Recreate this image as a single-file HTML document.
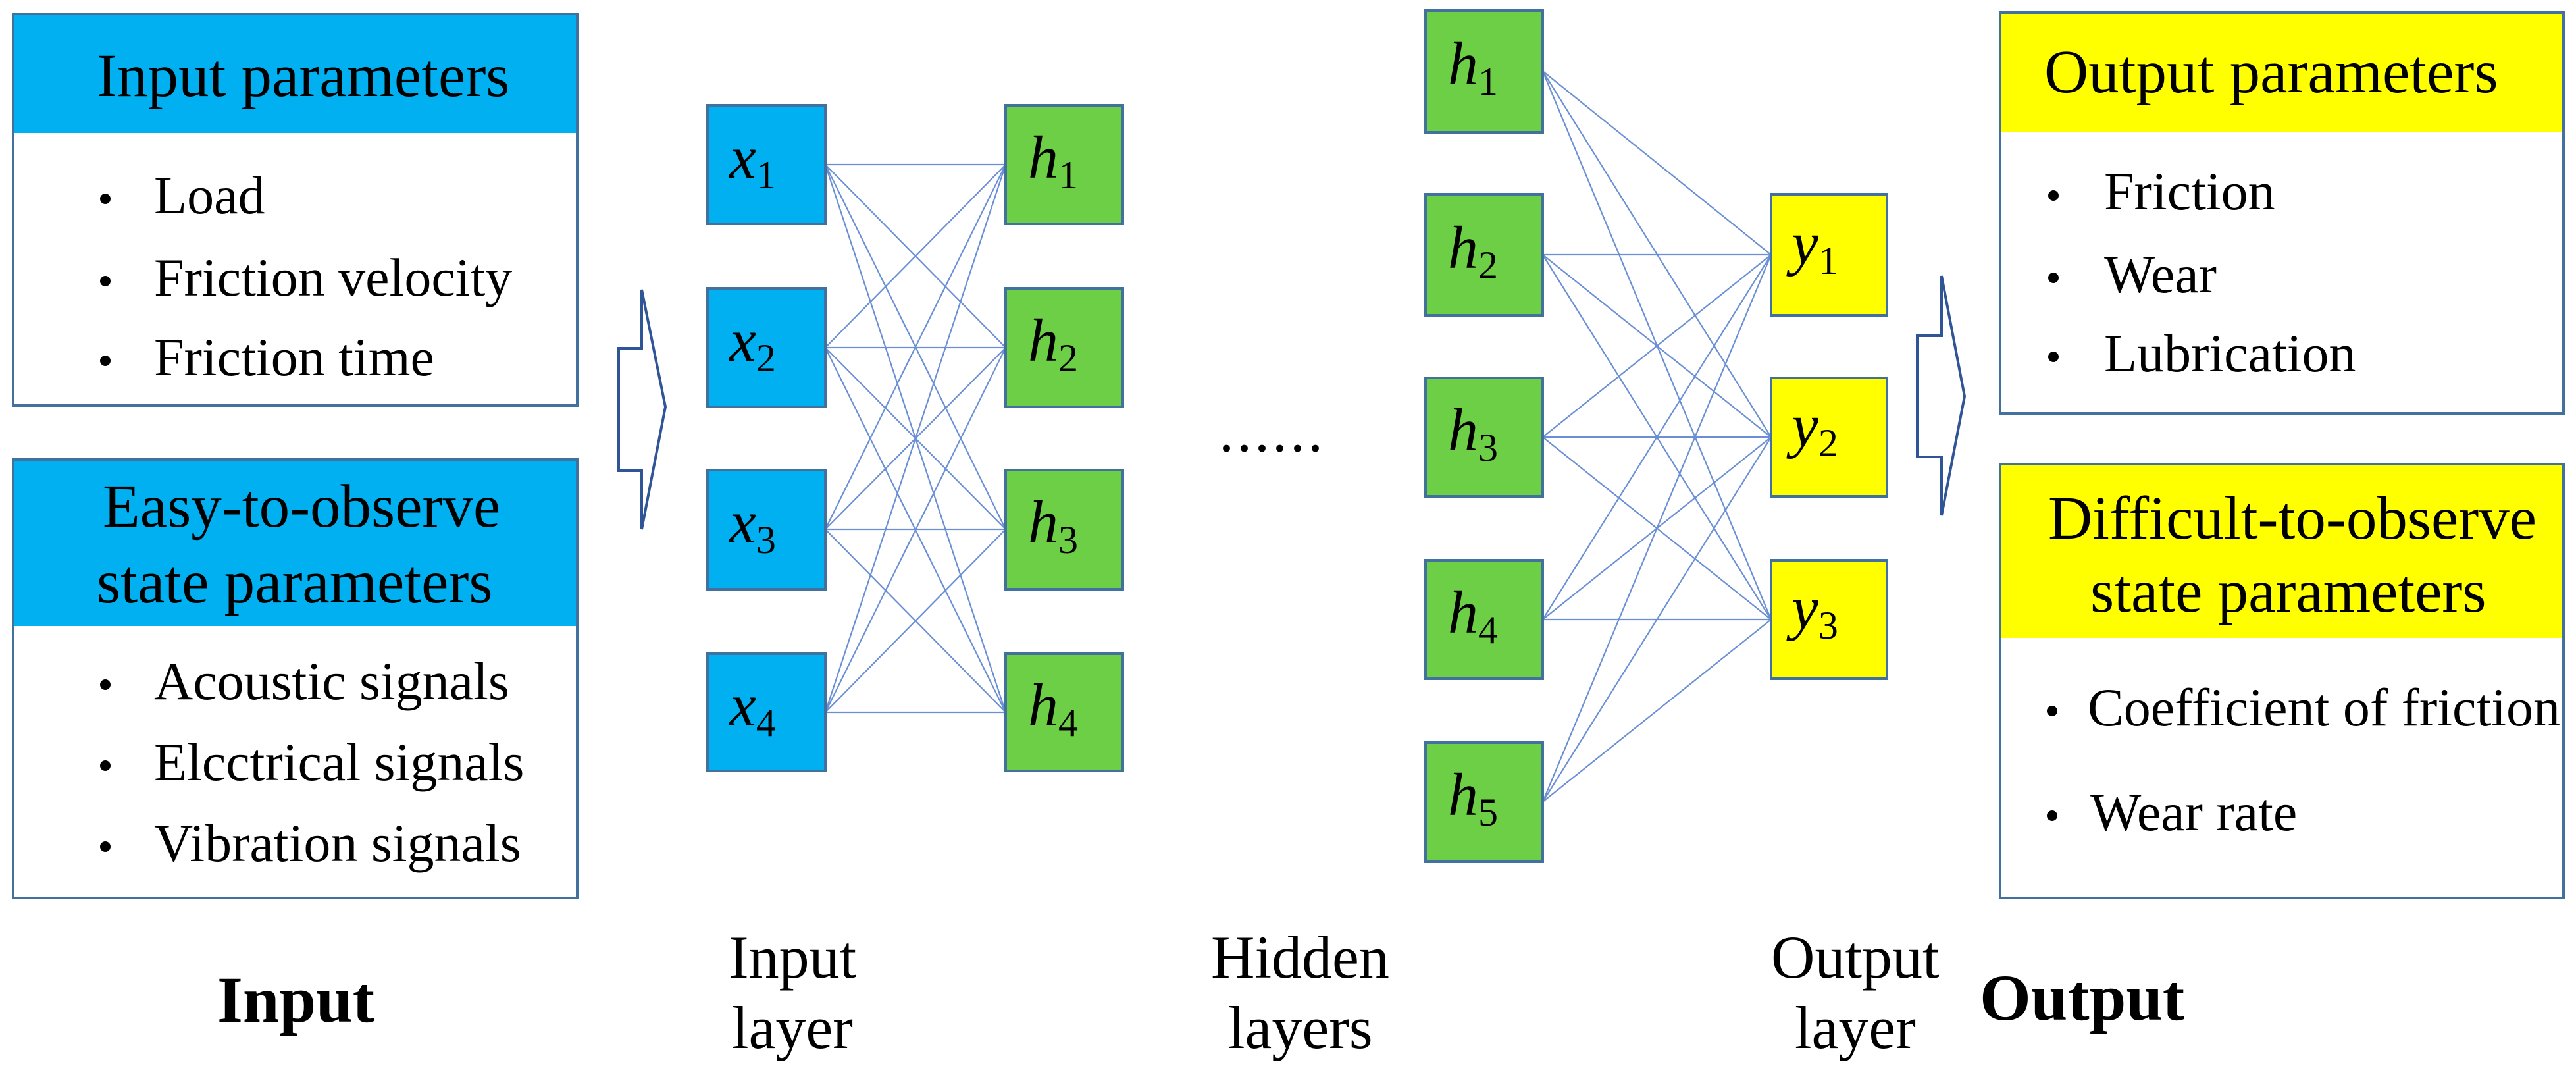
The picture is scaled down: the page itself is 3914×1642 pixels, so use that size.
<!DOCTYPE html>
<html><head><meta charset="utf-8"><style>
html,body{margin:0;padding:0;background:#fff}
body{position:relative;width:3914px;height:1642px;overflow:hidden}
svg{position:absolute;left:0;top:0}
.t{position:absolute;line-height:0;white-space:nowrap;color:#000;font-family:"Liberation Serif","Times New Roman","DejaVu Serif",serif}
.h{font-size:93px}
.b{font-size:82px}
.l{font-size:92px}
.B{font-size:100px;font-weight:bold}
.m{font-size:92px;font-style:italic;font-family:"Liberation Serif","DejaVu Serif",serif}
.m sub{font-size:60px;font-style:normal;vertical-align:baseline;position:relative;top:16px}
</style></head>
<body>
<svg width="3914" height="1642" viewBox="0 0 3914 1642" xmlns="http://www.w3.org/2000/svg">
<g stroke="#41719c" stroke-width="4">
<rect x="20" y="21" width="857" height="595" fill="#fff"/>
<rect x="20" y="698" width="857" height="666" fill="#fff"/>
<rect x="3039" y="19" width="856" height="609" fill="#fff"/>
<rect x="3039" y="705" width="856" height="659" fill="#fff"/>
</g>
<rect x="22" y="23" width="853" height="179" fill="#00b0f0"/>
<rect x="22" y="700" width="853" height="251" fill="#00b0f0"/>
<rect x="3041" y="21" width="852" height="180" fill="#ffff00"/>
<rect x="3041" y="707" width="852" height="262" fill="#ffff00"/>
<path d="M940 529 L975 529 L975 440 L1011 618 L975 804 L975 715 L940 715 Z" fill="#fff" stroke="#2f5597" stroke-width="4"/>
<path d="M2913 510 L2950 510 L2950 419 L2985 602 L2950 783 L2950 694 L2913 694 Z" fill="#fff" stroke="#2f5597" stroke-width="4"/>
<g fill="#000">
<circle cx="160" cy="302" r="8"/><circle cx="160" cy="427" r="8"/><circle cx="160" cy="548" r="8"/>
<circle cx="160" cy="1040" r="8"/><circle cx="160" cy="1163" r="8"/><circle cx="160" cy="1286" r="8"/>
<circle cx="3120" cy="297" r="8"/><circle cx="3120" cy="422" r="8"/><circle cx="3120" cy="542" r="8"/>
<circle cx="3118" cy="1080" r="8"/><circle cx="3118" cy="1239" r="8"/>
</g>
<g stroke="#6a8fd4" stroke-width="2.2" fill="none">
<path d="M1254 250L1528 250M1254 250L1528 528M1254 250L1528 804M1254 250L1528 1082
M1254 528L1528 250M1254 528L1528 528M1254 528L1528 804M1254 528L1528 1082
M1254 804L1528 250M1254 804L1528 528M1254 804L1528 804M1254 804L1528 1082
M1254 1082L1528 250M1254 1082L1528 528M1254 1082L1528 804M1254 1082L1528 1082"/>
<path d="M2344 108L2691 387M2344 108L2691 664M2344 108L2691 941
M2344 387L2691 387M2344 387L2691 664M2344 387L2691 941
M2344 664L2691 387M2344 664L2691 664M2344 664L2691 941
M2344 941L2691 387M2344 941L2691 664M2344 941L2691 941
M2344 1218L2691 387M2344 1218L2691 664M2344 1218L2691 941"/>
</g>
<g stroke="#41719c" stroke-width="4">
<g fill="#00b0f0">
<rect x="1075" y="160" width="179" height="180"/><rect x="1075" y="438" width="179" height="180"/>
<rect x="1075" y="714" width="179" height="181"/><rect x="1075" y="993" width="179" height="178"/>
</g>
<g fill="#6dcf45">
<rect x="1528" y="160" width="178" height="180"/><rect x="1528" y="438" width="178" height="180"/>
<rect x="1528" y="714" width="178" height="181"/><rect x="1528" y="993" width="178" height="178"/>
<rect x="2166" y="16" width="178" height="185"/><rect x="2166" y="295" width="178" height="184"/>
<rect x="2166" y="574" width="178" height="180"/><rect x="2166" y="851" width="178" height="180"/>
<rect x="2166" y="1128" width="178" height="181"/>
</g>
<g fill="#ffff00">
<rect x="2691" y="295" width="176" height="184"/><rect x="2691" y="574" width="176" height="180"/>
<rect x="2691" y="851" width="176" height="180"/>
</g>
</g>
</svg>

<div class="t h" style="left:147px;top:116px">Input parameters</div>
<div class="t h" style="left:156px;top:770px">Easy-to-observe</div>
<div class="t h" style="left:147px;top:885px">state parameters</div>
<div class="t h" style="left:3106px;top:110px">Output parameters</div>
<div class="t h" style="left:3112px;top:788px">Difficult-to-observe</div>
<div class="t h" style="left:3176px;top:899px">state parameters</div>

<div class="t b" style="left:234px;top:297px">Load</div>
<div class="t b" style="left:234px;top:422px">Friction velocity</div>
<div class="t b" style="left:234px;top:543px">Friction time</div>
<div class="t b" style="left:234px;top:1035px">Acoustic signals</div>
<div class="t b" style="left:234px;top:1158px">Elcctrical signals</div>
<div class="t b" style="left:234px;top:1281px">Vibration signals</div>
<div class="t b" style="left:3197px;top:291px">Friction</div>
<div class="t b" style="left:3197px;top:417px">Wear</div>
<div class="t b" style="left:3197px;top:537px">Lubrication</div>
<div class="t b" style="left:3172px;top:1075px">Coefficient of friction</div>
<div class="t b" style="left:3176px;top:1234px">Wear rate</div>

<div class="t m" style="left:1108px;top:239px">x<sub>1</sub></div>
<div class="t m" style="left:1108px;top:517px">x<sub>2</sub></div>
<div class="t m" style="left:1108px;top:793px">x<sub>3</sub></div>
<div class="t m" style="left:1108px;top:1071px">x<sub>4</sub></div>
<div class="t m" style="left:1562px;top:239px">h<sub>1</sub></div>
<div class="t m" style="left:1562px;top:517px">h<sub>2</sub></div>
<div class="t m" style="left:1562px;top:793px">h<sub>3</sub></div>
<div class="t m" style="left:1562px;top:1071px">h<sub>4</sub></div>
<div class="t m" style="left:2200px;top:97px">h<sub>1</sub></div>
<div class="t m" style="left:2200px;top:376px">h<sub>2</sub></div>
<div class="t m" style="left:2200px;top:653px">h<sub>3</sub></div>
<div class="t m" style="left:2200px;top:930px">h<sub>4</sub></div>
<div class="t m" style="left:2200px;top:1207px">h<sub>5</sub></div>
<div class="t m" style="left:2722px;top:369px">y<sub>1</sub></div>
<div class="t m" style="left:2722px;top:646px">y<sub>2</sub></div>
<div class="t m" style="left:2722px;top:923px">y<sub>3</sub></div>

<div class="t l" style="left:1852px;top:654px;letter-spacing:4px">......</div>
<div class="t l" style="left:1107px;top:1454px">Input</div>
<div class="t l" style="left:1112px;top:1561px">layer</div>
<div class="t l" style="left:1840px;top:1454px">Hidden</div>
<div class="t l" style="left:1866px;top:1561px">layers</div>
<div class="t l" style="left:2691px;top:1454px">Output</div>
<div class="t l" style="left:2727px;top:1561px">layer</div>
<div class="t B" style="left:330px;top:1519px">Input</div>
<div class="t B" style="left:3008px;top:1516px">Output</div>
</body></html>
